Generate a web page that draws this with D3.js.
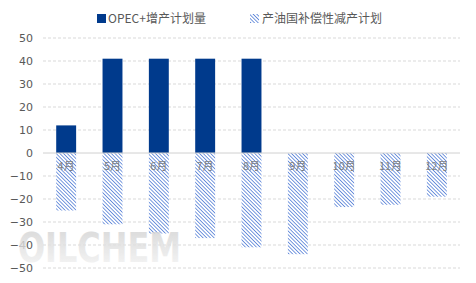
<!DOCTYPE html>
<html>
<head>
<meta charset="utf-8">
<script src="https://cdn.jsdelivr.net/npm/d3@7"></script>
<style>
  body { margin: 0; background: #fff; }
  text { font-family: "Noto Sans CJK SC", "DejaVu Sans", sans-serif; }
</style>
</head>
<body>
<div id="chart"></div>
<script>
// data
var months = ["4月", "5月", "6月", "7月", "8月", "9月", "10月", "11月", "12月"];
var increase = [12, 41, 41, 41, 41, null, null, null, null];
var compensation = [-25, -31, -35, -37, -41, -44, -23.5, -22.5, -19];
var yTicks = [50, 40, 30, 20, 10, 0, -10, -20, -30, -40, -50];
var seriesNames = ["OPEC+增产计划量", "产油国补偿性减产计划"];

var W = 476, H = 283;
var margin = {top: 38, right: 16, bottom: 15, left: 43};
var width = W - margin.left - margin.right,
    height = H - margin.top - margin.bottom;

var svg = d3.select("#chart").append("svg")
    .attr("width", W)
    .attr("height", H);

var defs = svg.append("defs");

// hatch pattern for the compensation bars
var pat = defs.append("pattern")
    .attr("id", "hatch")
    .attr("patternUnits", "userSpaceOnUse")
    .attr("width", 2.6)
    .attr("height", 2.6)
    .attr("patternTransform", "rotate(-45)");
pat.append("rect").attr("width", 2.6).attr("height", 2.6).attr("fill", "#fff");
pat.append("line")
    .attr("x1", 0).attr("y1", 0).attr("x2", 0).attr("y2", 2.6)
    .attr("stroke", "#4a78d4")
    .attr("stroke-width", 1.5);

// watermark gradient
var grad = defs.append("linearGradient")
    .attr("id", "wm").attr("x1", 0).attr("y1", 0).attr("x2", 0).attr("y2", 1);
grad.append("stop").attr("offset", "0%").attr("stop-color", "#cfcfcf");
grad.append("stop").attr("offset", "100%").attr("stop-color", "#f6f6f6");

var g = svg.append("g")
    .attr("transform", "translate(" + margin.left + "," + margin.top + ")");

var x = d3.scaleBand().domain(months).range([0, width]).paddingInner(0.57).paddingOuter(0.285);
var y = d3.scaleLinear().domain([-50, 50]).range([height, 0]);

// grid lines
g.append("g")
    .selectAll("line")
    .data(yTicks.filter(function(d) { return d !== 0; }))
    .enter().append("line")
    .attr("x1", 0)
    .attr("x2", width)
    .attr("y1", function(d) { return y(d); })
    .attr("y2", function(d) { return y(d); })
    .attr("stroke", "#d9d9d9")
    .attr("stroke-dasharray", "3,2");

// watermark (sits behind the axis labels)
svg.append("text")
    .attr("x", 18)
    .attr("y", 262)
    .attr("fill", "url(#wm)")
    .attr("opacity", 0.8)
    .style("font-family", "'DejaVu Sans', sans-serif")
    .style("font-weight", "bold")
    .style("font-size", "40px")
    .attr("textLength", 163)
    .attr("lengthAdjust", "spacingAndGlyphs")
    .text("OILCHEM");

// y axis labels
var yAxis = g.append("g")
    .call(d3.axisLeft(y).tickValues(yTicks).tickSize(0).tickPadding(10));
yAxis.select(".domain").remove();
yAxis.selectAll("text")
    .attr("fill", "#595959")
    .style("font-size", "11px")
    .style("font-family", "'DejaVu Sans', sans-serif");

// positive bars
g.append("g")
    .selectAll("rect")
    .data(increase.map(function(v, i) { return {m: months[i], v: v}; }).filter(function(d) { return d.v != null; }))
    .enter().append("rect")
    .attr("x", function(d) { return x(d.m); })
    .attr("width", x.bandwidth())
    .attr("y", function(d) { return y(d.v); })
    .attr("height", function(d) { return y(0) - y(d.v); })
    .attr("fill", "#003a8c");

// negative hatched bars
g.append("g")
    .selectAll("rect")
    .data(compensation.map(function(v, i) { return {m: months[i], v: v}; }))
    .enter().append("rect")
    .attr("x", function(d) { return x(d.m); })
    .attr("width", x.bandwidth())
    .attr("y", y(0))
    .attr("height", function(d) { return y(d.v) - y(0); })
    .attr("fill", "url(#hatch)");

// zero line
g.append("line")
    .attr("x1", 0).attr("x2", width)
    .attr("y1", y(0)).attr("y2", y(0))
    .attr("stroke", "#d0d0d0")
    .attr("stroke-width", 1);

// category labels
var xAxis = g.append("g")
    .attr("transform", "translate(0," + y(0) + ")")
    .call(d3.axisBottom(x).tickSize(0).tickPadding(9));
xAxis.select(".domain").remove();
xAxis.selectAll("text")
    .attr("fill", "#7f7f7f")
    .style("font-size", "11px");

// legend
var legend = svg.append("g").attr("transform", "translate(0,19)");
legend.append("rect")
    .attr("x", 97).attr("y", -5).attr("width", 9).attr("height", 9)
    .attr("fill", "#003a8c");
legend.append("text")
    .attr("x", 108).attr("y", 0).attr("dy", "0.35em")
    .attr("fill", "#595959")
    .style("font-size", "12px")
    .text(seriesNames[0]);
legend.append("rect")
    .attr("x", 250).attr("y", -5).attr("width", 9).attr("height", 9)
    .attr("fill", "url(#hatch)");
legend.append("text")
    .attr("x", 262).attr("y", 0).attr("dy", "0.35em")
    .attr("fill", "#595959")
    .style("font-size", "12px")
    .text(seriesNames[1]);
</script>
</body>
</html>
